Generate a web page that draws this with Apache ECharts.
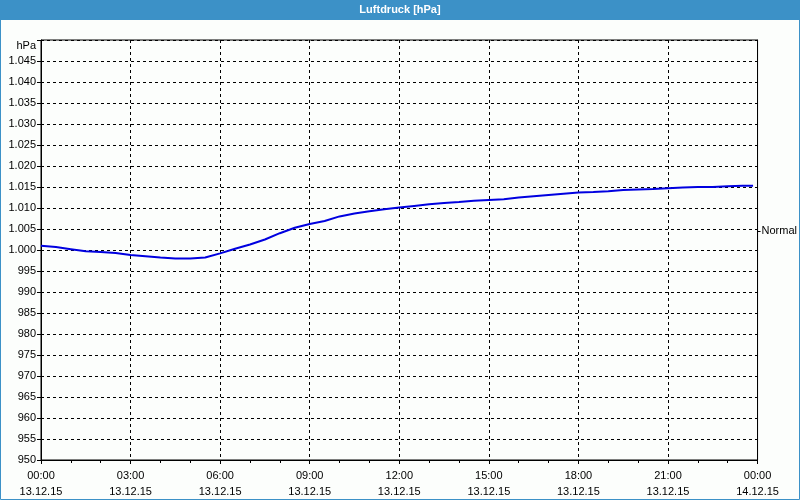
<!DOCTYPE html>
<html><head><meta charset="utf-8">
<script src="https://cdn.jsdelivr.net/npm/echarts@6/dist/echarts.min.js"></script>
<style>html,body{margin:0;padding:0;background:#fff}#c{width:800px;height:500px}</style>
</head><body><div id="c"></div>
<script>
// hours since 13.12.15 00:00
var hours = [0,0.5,1,1.5,2,2.5,3,3.5,4,4.5,5,5.5,6,6.5,7,7.5,8,8.5,9,9.5,10,10.5,11,11.5,12,12.5,13,13.5,14,14.5,15,15.5,16,16.5,17,17.5,18,18.5,19,19.5,20,20.5,21,21.5,22,22.5,23,23.5,23.85];
var pressure = [1001.0,1000.7,1000.2,999.7,999.5,999.3,998.8,998.5,998.2,998.0,998.0,998.2,999.2,1000.3,1001.3,1002.5,1004.0,1005.3,1006.2,1006.9,1008.0,1008.7,1009.2,1009.7,1010.1,1010.5,1010.9,1011.2,1011.4,1011.7,1011.9,1012.1,1012.5,1012.8,1013.1,1013.4,1013.7,1013.8,1014.0,1014.3,1014.4,1014.5,1014.7,1014.9,1015.0,1015.0,1015.2,1015.3,1015.3];
var xTickTimes = ['00:00','03:00','06:00','09:00','12:00','15:00','18:00','21:00','00:00'];
var xTickDates = ['13.12.15','13.12.15','13.12.15','13.12.15','13.12.15','13.12.15','13.12.15','13.12.15','14.12.15'];
var normalValue = 1004.5;
var normalLabel = 'Normal';
var titleText = 'Luftdruck [hPa]';
var yUnit = 'hPa';

var data = hours.map(function(h,i){return [h, pressure[i]];});
var font = 'Liberation Sans, Arial, sans-serif';
var chart = echarts.init(document.getElementById('c'), null, {renderer:'canvas'});
chart.setOption({
  animation:false,
  backgroundColor:'#fcfefc',
  title:{text:titleText,left:'center',top:4,padding:0,textStyle:{color:'#fff',fontSize:11,fontWeight:'bold',fontFamily:'Liberation Sans'}},
  graphic:[
    {type:'rect',z:-1,shape:{x:0,y:0,width:800,height:20},style:{fill:'#3c91c7'}},
    {type:'rect',z:-1,shape:{x:0.5,y:0.5,width:799,height:499},style:{fill:null,stroke:'#3c91c7',lineWidth:1}}
  ],
  grid:{left:41,top:40,width:720,height:420,show:true,borderColor:'#000',borderWidth:1,backgroundColor:'transparent'},
  xAxis:{type:'value',min:0,max:24,interval:3,
    axisLine:{lineStyle:{color:'#000',width:1}},
    axisTick:{show:true,length:4,lineStyle:{color:'#000'}},
    minorTick:{show:true,splitNumber:3,length:3,lineStyle:{color:'#000'}},
    splitLine:{show:true,lineStyle:{color:'#000',type:[3,3],width:1}},
    axisLabel:{color:'#000',fontSize:11,fontFamily:font,lineHeight:16,margin:8,
      formatter:function(v){var i=Math.round(v/3);return xTickTimes[i]+'\n'+xTickDates[i];}}
  },
  yAxis:[{type:'value',min:950,max:1050,interval:5,
    axisLine:{show:true,lineStyle:{color:'#000'}},
    axisTick:{show:true,length:4,lineStyle:{color:'#000'}},
    splitLine:{show:true,lineStyle:{color:'#000',type:[3,3],width:1}},
    axisLabel:{color:'#000',fontSize:11,fontFamily:font,margin:5,
      rich:{u:{fontSize:11,fontFamily:font,color:'#000',padding:[12,0,0,0]}},
      formatter:function(v){if(v===1050)return '{u|'+yUnit+'}'; if(v>=1000){var s=String(v);return s[0]+'.'+s.slice(1);} return String(v);}}
  },{type:'value',min:950,max:1050,position:'right',
    axisLine:{show:true,lineStyle:{color:'#000'}},
    axisTick:{show:true,length:3,customValues:[normalValue],lineStyle:{color:'#000'}},
    splitLine:{show:false},
    axisLabel:{color:'#000',fontSize:11,fontFamily:font,margin:4,customValues:[normalValue],formatter:function(){return normalLabel;}}
  }],
  series:[{type:'line',data:data,showSymbol:false,symbol:'none',lineStyle:{color:'#0000e0',width:2},itemStyle:{color:'#0000e0'}}]
});
</script></body></html>
